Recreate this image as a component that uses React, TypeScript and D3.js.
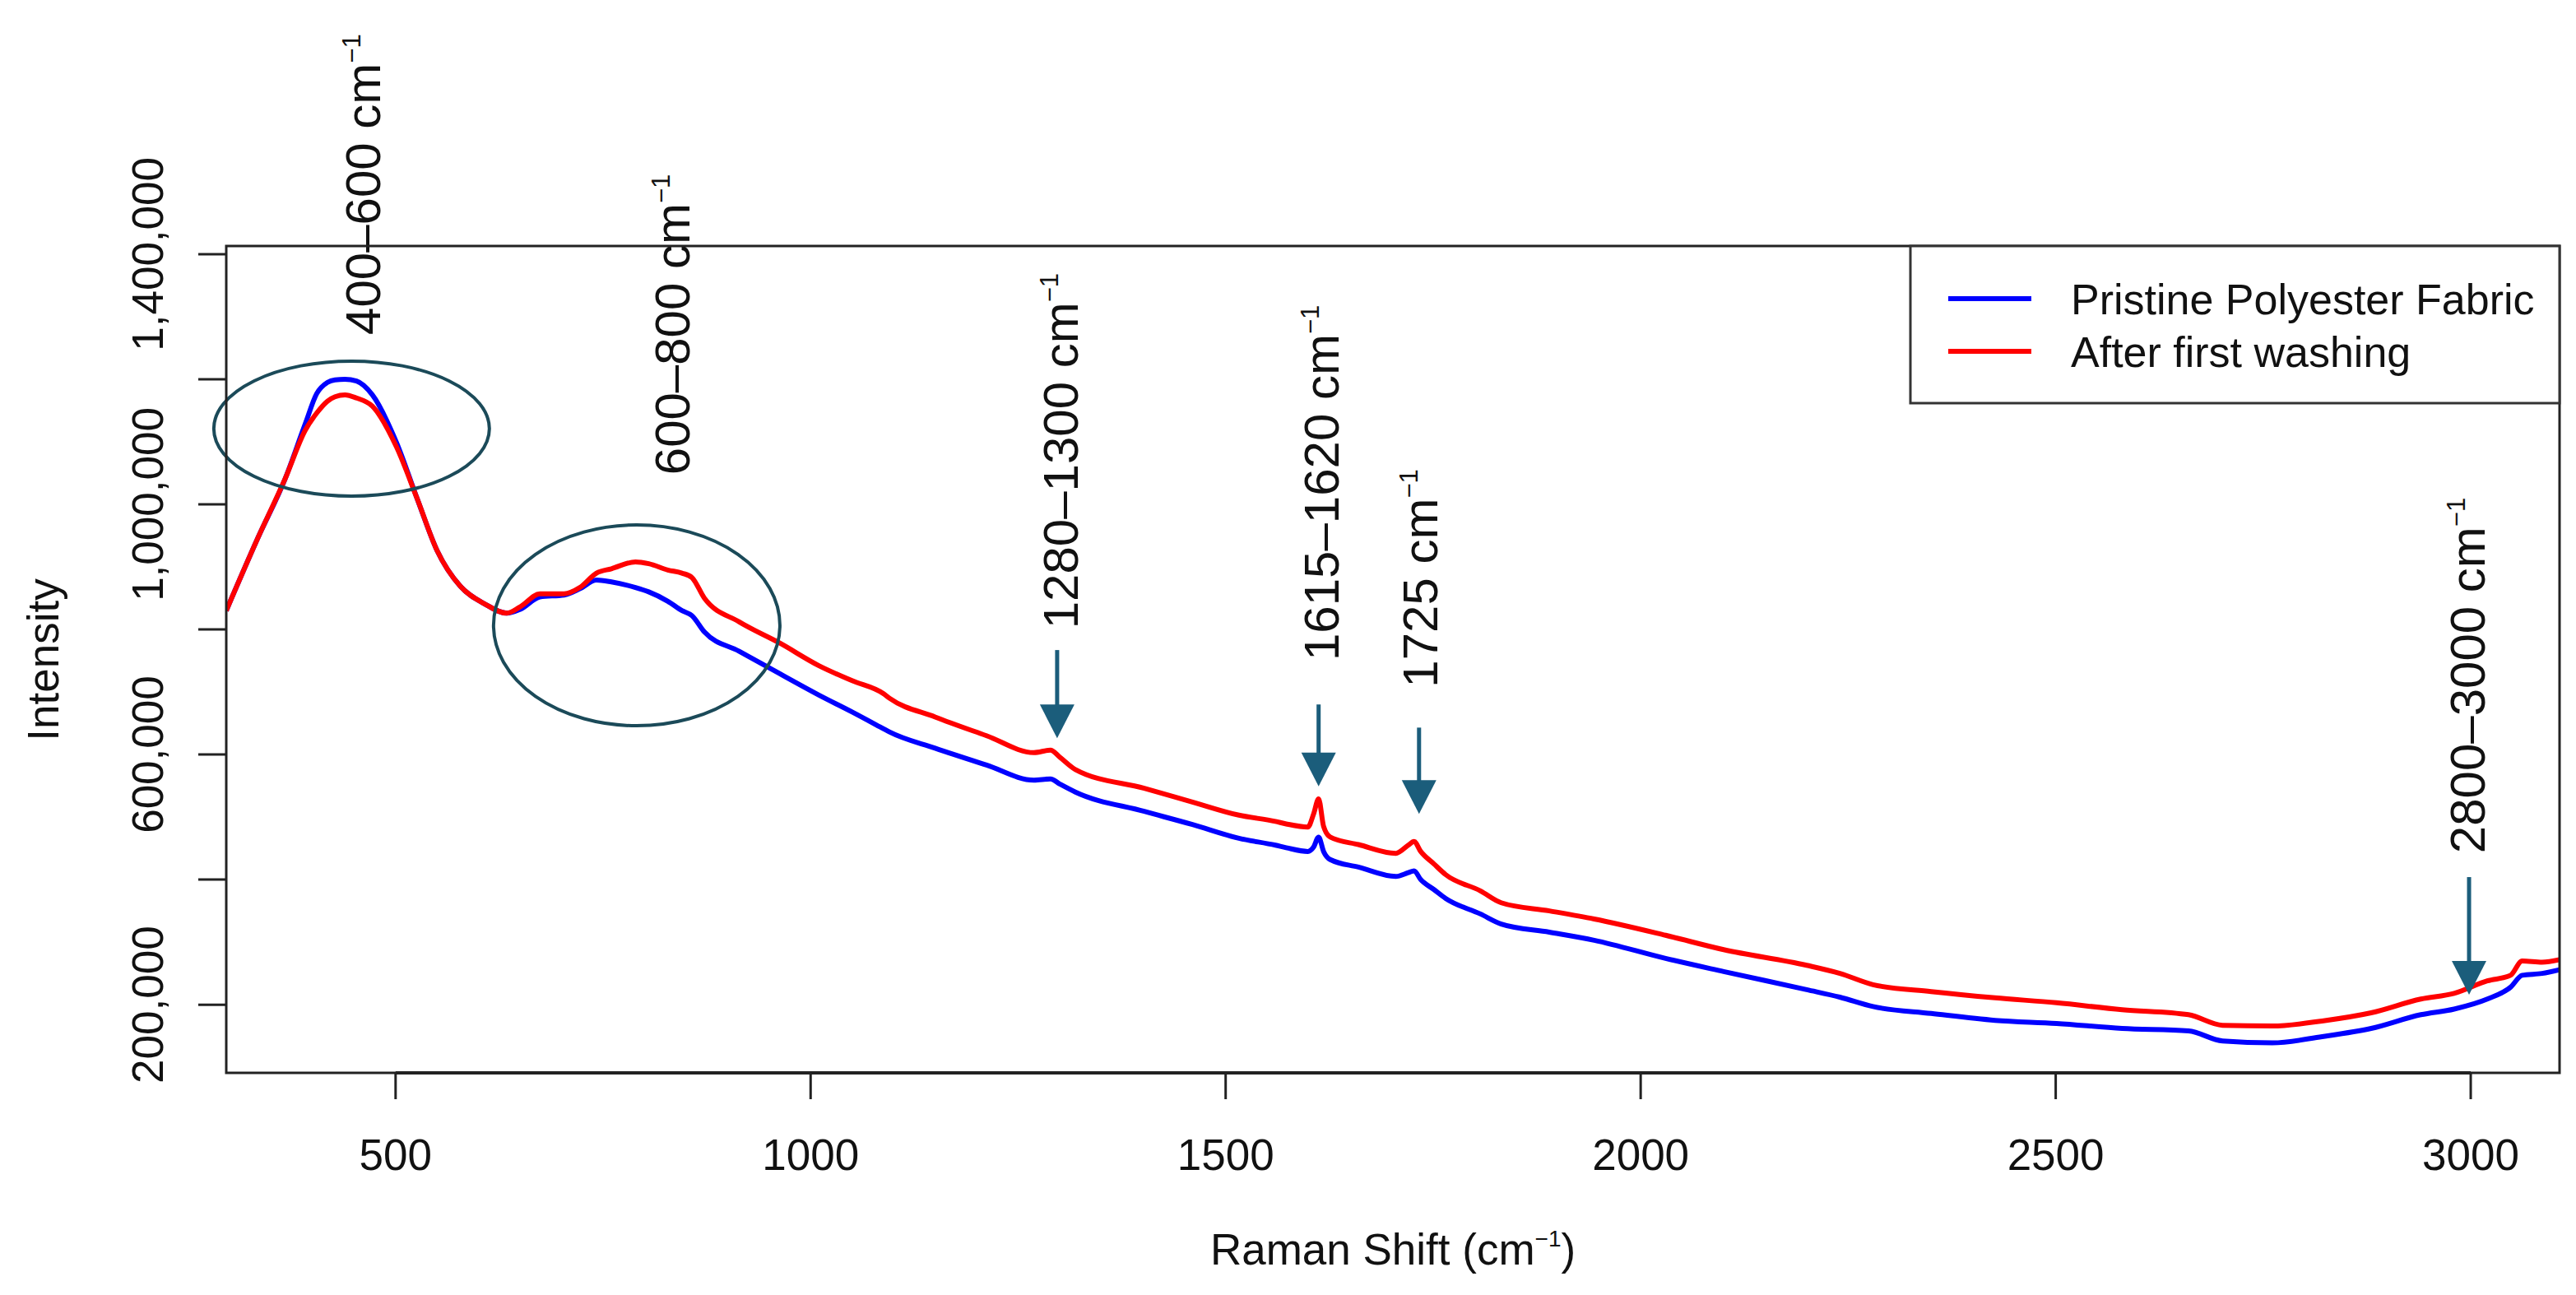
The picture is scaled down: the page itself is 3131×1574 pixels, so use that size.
import * as d3 from 'd3';

// Raman shift (cm^-1) sampled off the figure
const shift = [
  296, 334, 367, 391, 405, 418, 427, 439, 453, 472, 501, 526, 550, 578, 607, 634, 650, 674, 703, 722,
  742, 760, 789, 805, 828, 845, 857, 872, 914, 963, 1010, 1050, 1088, 1095, 1150, 1212, 1269, 1289,
  1300, 1319, 1402, 1460, 1516, 1560, 1573, 1599, 1606, 1612, 1618, 1626, 1660, 1705, 1720, 1727,
  1735, 1751, 1765, 1807, 1832, 1890, 1944, 2030, 2100, 2200, 2240, 2280, 2350, 2427, 2501, 2580,
  2660, 2701, 2761, 2821, 2880, 2940, 2980, 3020, 3048, 3062, 3086, 3107,
];

// intensity, thousands
const pristine = [
  830, 946, 1041, 1128, 1177, 1195, 1199, 1200, 1197, 1175, 1099, 1009, 926, 869, 841, 826, 832, 852, 855, 865,
  879, 876, 867, 860, 845, 830, 822, 796, 765, 729, 695, 668, 641, 636, 610, 583, 559, 561,
  553, 540, 509, 488, 466, 455, 451, 445, 452, 468, 445, 432, 420, 405, 411, 414,
  400, 384, 370, 345, 329, 316, 303, 274, 253, 224, 212, 197, 186, 175, 170, 162,
  158, 142, 139, 149, 162, 184, 193, 209, 228, 247, 250, 256,
];

const washed = [
  830, 946, 1041, 1118, 1146, 1165, 1172, 1175, 1170, 1157, 1092, 1009, 926, 869, 841, 826, 836, 857, 857, 867,
  890, 897, 908, 905, 895, 890, 883, 850, 812, 778, 742, 718, 697, 690, 660, 630, 603, 607,
  596, 576, 546, 524, 503, 493, 489, 484, 505, 529, 485, 468, 456, 442, 455, 461,
  445, 425, 408, 382, 363, 350, 337, 311, 288, 263, 250, 232, 221, 211, 203, 192,
  184, 167, 166, 174, 187, 209, 218, 238, 247, 270, 268, 272,
];

const seriesNames = ['Pristine Polyester Fabric', 'After first washing'];
const seriesColors = ['#0000ff', '#ff0000'];

const xTicks = [500, 1000, 1500, 2000, 2500, 3000];
const yTicks = [200000, 400000, 600000, 800000, 1000000, 1200000, 1400000];
const yLabelled = [200000, 600000, 1000000, 1400000];

// band annotations
const bandLabels = ['400–600', '600–800', '1280–1300', '1615–1620', '1725', '2800–3000'];
const bandShift = [460, 833, 1300, 1615, 1734, 2995];
const bandBase = [1271000, 1047000, 801000, 750000, 707000, 442000];

const arrowShift = [1297, 1612, 1733, 2998];
const arrowFrom = [767000, 680000, 643000, 404000];
const arrowTo = [626000, 549000, 505000, 216000];

const ellipseShift = [[281, 613], [618, 963]];
const ellipseIntensity = [[1013000, 1229000], [646000, 967000]];

const W = 3131;
const H = 1574;
const left = 275;
const right = 3111;
const top = 299;
const bottom = 1304;
const font = '"Liberation Sans", Arial, Helvetica, sans-serif';
const annot = '#1b5d7b';

export default function App() {
  const x = d3.scaleLinear([296, 3107], [left, right]);
  const y = d3.scaleLinear([91000, 1413000], [bottom, top]);
  const line = d3
    .line<number>()
    .x((d, i) => x(shift[i]))
    .y((d) => y(d * 1000))
    .curve(d3.curveMonotoneX);
  const fmt = d3.format(',');

  return (
    <svg
      width={W}
      height={H}
      style={{ position: 'absolute', left: 0, top: 0, background: '#fff' }}
      fontFamily={font}
    >
      <defs>
        <clipPath id="plot">
          <rect x={left} y={top} width={right - left} height={bottom - top} />
        </clipPath>
      </defs>

      {/* spectra */}
      <g clipPath="url(#plot)" fill="none" strokeWidth={6} strokeLinejoin="round">
        <path d={line(pristine) ?? ''} stroke={seriesColors[0]} />
        <path d={line(washed) ?? ''} stroke={seriesColors[1]} />
      </g>

      {/* ellipses */}
      <g fill="none" stroke="#1b4a59" strokeWidth={4}>
        {ellipseShift.map((s, i) => (
          <ellipse
            key={i}
            cx={(x(s[0]) + x(s[1])) / 2}
            cy={(y(ellipseIntensity[i][0]) + y(ellipseIntensity[i][1])) / 2}
            rx={(x(s[1]) - x(s[0])) / 2}
            ry={(y(ellipseIntensity[i][0]) - y(ellipseIntensity[i][1])) / 2}
          />
        ))}
      </g>

      {/* arrows */}
      <g fill={annot} stroke={annot}>
        {arrowShift.map((s, i) => {
          const ax = x(s);
          const tip = y(arrowTo[i]);
          return (
            <g key={i}>
              <line x1={ax} x2={ax} y1={y(arrowFrom[i])} y2={tip - 38} strokeWidth={5} />
              <path d={`M${ax - 21},${tip - 41}L${ax + 21},${tip - 41}L${ax},${tip}Z`} stroke="none" />
            </g>
          );
        })}
      </g>

      {/* band labels */}
      {bandLabels.map((t, i) => (
        <text
          key={t}
          transform={`translate(${x(bandShift[i])},${y(bandBase[i])}) rotate(-90)`}
          dy="0.36em"
          fontSize={60}
          fill="#111"
        >
          {t} cm
          <tspan dy={-24} fontSize={31}>
            −1
          </tspan>
        </text>
      ))}

      {/* frame */}
      <rect x={left} y={top} width={right - left} height={bottom - top} fill="none" stroke="#222" strokeWidth={3} />

      {/* x axis */}
      <g stroke="#222" strokeWidth={3}>
        <line x1={x(xTicks[0])} x2={x(xTicks[xTicks.length - 1])} y1={bottom} y2={bottom} strokeWidth={4} />
        {xTicks.map((t) => (
          <line key={t} x1={x(t)} x2={x(t)} y1={bottom} y2={bottom + 32} />
        ))}
      </g>
      {xTicks.map((t) => (
        <text key={t} x={x(t)} y={1422} textAnchor="middle" fontSize={53} fill="#111">
          {t}
        </text>
      ))}

      {/* y axis */}
      <g stroke="#222" strokeWidth={3}>
        {yTicks.map((t) => (
          <line key={t} x1={left - 34} x2={left} y1={y(t)} y2={y(t)} />
        ))}
      </g>
      {yLabelled.map((t) => (
        <text
          key={t}
          transform={`translate(${179},${y(t)}) rotate(-90)`}
          dy="0.36em"
          textAnchor="middle"
          fontSize={53}
          fill="#111"
        >
          {fmt(t)}
        </text>
      ))}

      {/* axis titles */}
      <text transform={`translate(${52},${802}) rotate(-90)`} dy="0.36em" textAnchor="middle" fontSize={53} fill="#111">
        Intensity
      </text>
      <text x={(left + right) / 2} y={1537} textAnchor="middle" fontSize={53} fill="#111">
        Raman Shift (cm
        <tspan dy={-22} fontSize={28}>
          −1
        </tspan>
        <tspan dy={22}>)</tspan>
      </text>

      {/* legend */}
      <rect x={2322} y={top} width={right - 2322} height={191} fill="#fff" stroke="#333" strokeWidth={3} />
      {seriesNames.map((n, i) => (
        <g key={n} transform={`translate(0,${363 + i * 64})`}>
          <line x1={2368} x2={2469} stroke={seriesColors[i]} strokeWidth={6} />
          <text x={2517} dy="0.36em" fontSize={52} fill="#111">
            {n}
          </text>
        </g>
      ))}
    </svg>
  );
}
